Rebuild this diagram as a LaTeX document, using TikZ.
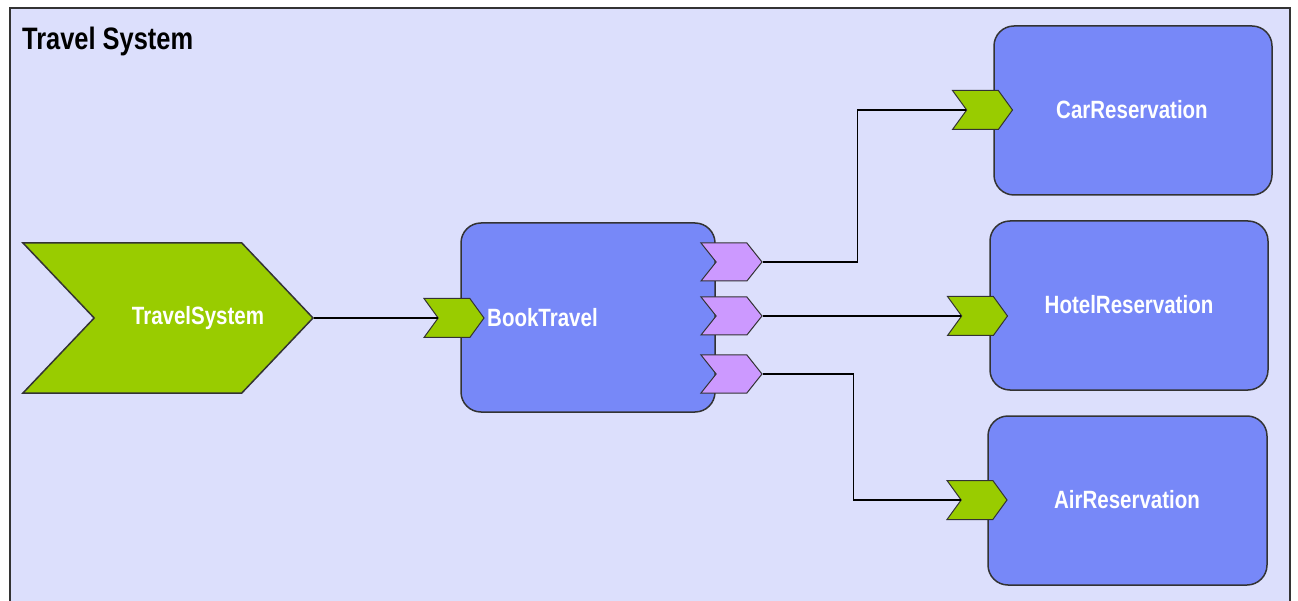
\documentclass[tikz,border=0pt]{standalone}
\usepackage{fontspec}
\setmainfont{Liberation Sans}
\newfontfamily\lblfont[FakeStretch=0.82]{Liberation Sans}
\usetikzlibrary{shapes.symbols}
\definecolor{bgc}{HTML}{DCDFFC}
\definecolor{boxc}{HTML}{7788F8}
\definecolor{grn}{HTML}{99CC00}
\definecolor{prp}{HTML}{CC99FF}
\definecolor{edge}{HTML}{333333}
\tikzset{
  frame/.style={draw=edge, line width=2pt, fill=bgc},
  compbox/.style={draw=edge, line width=1.5pt, fill=boxc, rounded corners=20pt, inner sep=0pt},
  chev/.style={signal, signal to=east, signal from=west, draw=edge, line width=1pt, inner sep=0pt},
  inport/.style={chev, fill=grn, minimum width=60pt, minimum height=39pt, signal pointer angle=108},
  outport/.style={chev, fill=prp, minimum width=61pt, minimum height=38pt, signal pointer angle=103},
  lbl/.style={text=white, font=\lblfont\bfseries\fontsize{25}{30}\selectfont, inner sep=0pt},
  conn/.style={draw=black, line width=1.5pt},
}
\begin{document}
\begin{tikzpicture}[x=1pt,y=-1pt]
\useasboundingbox (0,0) rectangle (1298,601);
\clip (0,0) rectangle (1298,601);
\fill[white] (0,0) rectangle (1298,601);
\draw[frame] (10,8) rectangle (1290,630);
\node[anchor=base west, inner sep=0pt, font=\lblfont\bfseries\fontsize{31}{36}\selectfont] (title) at (22,50) {Travel System};

% TravelSystem entry chevron
\node[chev, fill=grn, line width=1.5pt, minimum width=290pt, minimum height=150pt, signal pointer angle=93] (ts) at (168,318) {};
\node[lbl] (tslabel) at (198,318) {TravelSystem};

% BookTravel
\node[compbox, minimum width=254pt, minimum height=189pt] (bt) at (588,317.5) {};
\node[inport] (btin) at (454,318) {};
\node[lbl, anchor=west] (btlabel) at (487,318) {BookTravel};
\node[outport] (p1) at (731.5,262) {};
\node[outport] (p2) at (731.5,316) {};
\node[outport] (p3) at (731.5,374) {};

% Reservations
\node[compbox, minimum width=278pt, minimum height=169pt] (car) at (1133,110.5) {};
\node[lbl] (carlabel) at (1132,110) {CarReservation};
\node[inport] (carin) at (982.5,110) {};

\node[compbox, minimum width=278pt, minimum height=169pt] (hotel) at (1129,305.5) {};
\node[lbl] (hotellabel) at (1129,305) {HotelReservation};
\node[inport] (hotelin) at (977.5,316) {};

\node[compbox, minimum width=279pt, minimum height=169pt] (air) at (1127.5,500.5) {};
\node[lbl] (airlabel) at (1127,500) {AirReservation};
\node[inport] (airin) at (977,500) {};

% connectors
\draw[conn] (ts.east) -- (btin.west);
\draw[conn] (p1.east) -- ++(95,0) |- (carin.west);
\draw[conn] (p2.east) -- (hotelin.west);
\draw[conn] (p3.east) -- ++(91,0) |- (airin.west);
\end{tikzpicture}
\end{document}
